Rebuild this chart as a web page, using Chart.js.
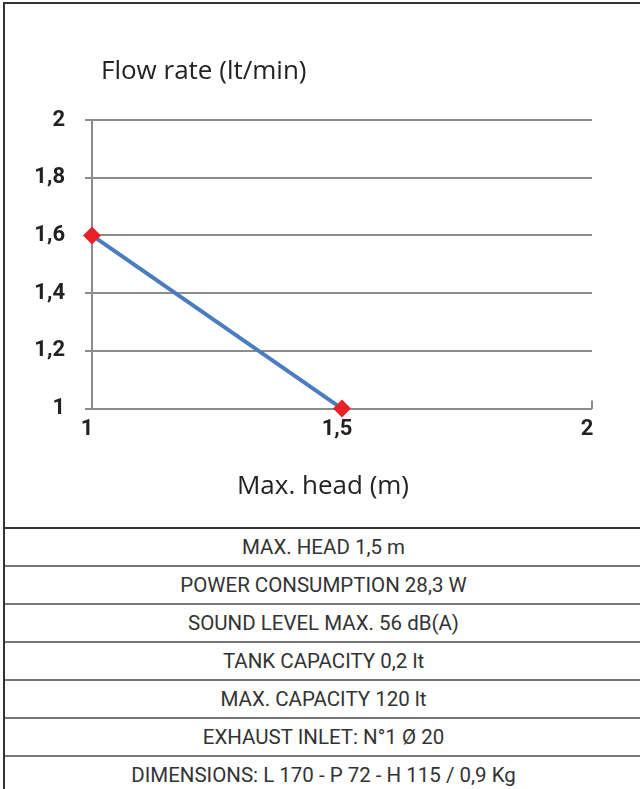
<!DOCTYPE html>
<html>
<head>
<meta charset="utf-8">
<script src="https://cdn.jsdelivr.net/npm/chart.js@4/dist/chart.umd.min.js"></script>
<style>
	body { margin: 0; background: #fff; }
	#frame { position: absolute; left: 3px; top: 2px; width: 700px; border-left: 2px solid #333; border-top: 2px solid #333; }
	#chartBox { position: relative; width: 635px; height: 523px; }
	#yTitle { position: absolute; left: 96px; top: 47px; font: 26px "Open Sans", sans-serif; color: #222; }
	#xTitle { position: absolute; left: 0; top: 465px; width: 636px; text-align: center; font: 26px "Open Sans", sans-serif; line-height: 30px; color: #222; }
	#specs { border-top: 2px solid #333; }
	.row { width: 637px; height: 36px; font: 20.5px Roboto, sans-serif; line-height: 36px; text-align: center; color: #333; border-bottom: 2px solid #777; }
	.row:last-child { border-bottom: none; }
</style>
</head>
<body>
<div id="frame">
	<div id="chartBox">
		<canvas id="Flow_Plot" width="635" height="523"></canvas>
		<div id="yTitle">Flow rate (lt/min)</div>
		<div id="xTitle">Max. head (m)</div>
	</div>
	<div id="specs"></div>
</div>
<script>
// data
const head_values = [1, 1.5];
const flow_values = [1.6, 1];
const x_tick_labels = ['1', '1,5', '2'];
const y_tick_labels = ['1', '1,2', '1,4', '1,6', '1,8', '2'];
const spec_rows = [
	'MAX. HEAD 1,5 m',
	'POWER CONSUMPTION 28,3 W',
	'SOUND LEVEL MAX. 56 dB(A)',
	'TANK CAPACITY 0,2 lt',
	'MAX. CAPACITY 120 lt',
	'EXHAUST INLET: N°1 Ø 20',
	'DIMENSIONS: L 170 - P 72 - H 115 / 0,9 Kg'
];

const grid_grey = '#8c8c8c';
const tick_font = { family: 'Roboto', size: 22, weight: 'bold' };

var specs = document.getElementById('specs');
spec_rows.forEach(function (txt) {
	var d = document.createElement('div');
	d.className = 'row';
	d.textContent = txt;
	specs.appendChild(d);
});

const flow_plot = document.getElementById('Flow_Plot').getContext('2d');

var Flow_Plot_Obj = new Chart(flow_plot, {
	type: 'line',
	data: {
		datasets: [
			{
				data: head_values.map((h, i) => ({ x: h, y: flow_values[i] })),
				borderColor: '#4a7dbf',
				borderWidth: 4,
				backgroundColor: '#e8202a',
				pointBackgroundColor: '#e8202a',
				pointBorderColor: '#e8202a',
				pointStyle: 'rectRot',
				pointRadius: 9,
				pointBorderWidth: 0,
				lineTension: 0,
				fill: false,
				clip: false,
			}
		]
	},
	options: {
		responsive: false,
		animation: false,
		layout: { padding: { top: 116, right: 48, bottom: 68, left: 0 } },
		plugins: {
			legend: { display: false },
			tooltip: { enabled: false },
		},
		scales: {
			x: {
				type: 'linear',
				min: 1,
				max: 2,
				border: { display: false },
				grid: {
					drawOnChartArea: false,
					drawTicks: true,
					tickLength: -8,
					color: grid_grey,
					lineWidth: 2,
				},
				ticks: {
					stepSize: 0.5,
					padding: 16,
					labelOffset: -5,
					color: '#222',
					font: tick_font,
					callback: (v, i) => x_tick_labels[i],
				},
			},
			y: {
				min: 1,
				max: 2,
				afterFit: (s) => { s.width = 87; },
				border: { display: true, color: grid_grey, width: 2 },
				grid: {
					color: grid_grey,
					lineWidth: 2,
					tickLength: 7,
				},
				ticks: {
					stepSize: 0.2,
					padding: 20,
					color: '#222',
					font: tick_font,
					callback: (v, i) => y_tick_labels[i],
				},
			},
		},
		events: [],
	}
});
</script>
</body>
</html>
